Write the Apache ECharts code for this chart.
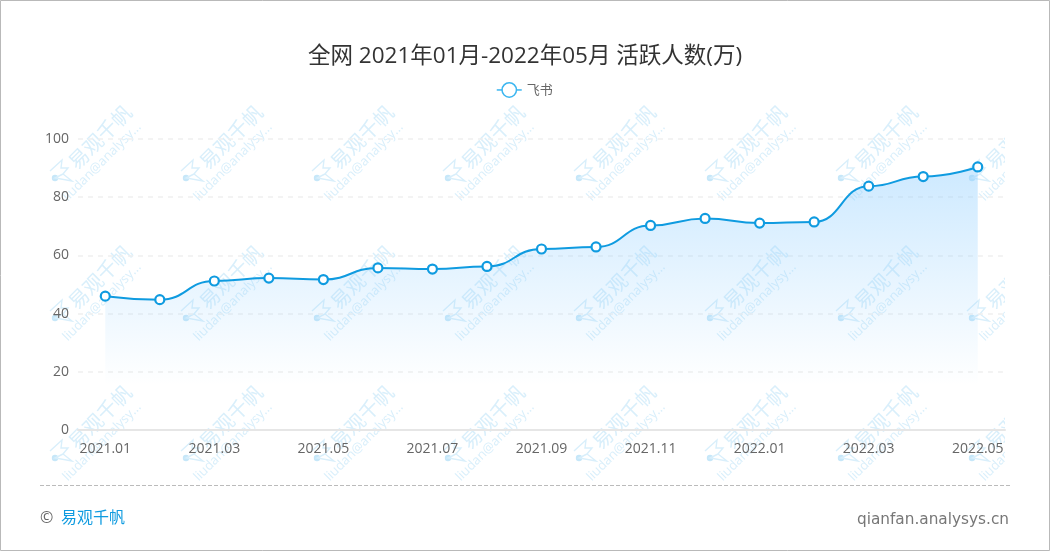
<!DOCTYPE html>
<html><head><meta charset="utf-8">
<style>html,body{margin:0;padding:0;background:#fff}#c{width:1050px;height:551px}</style>
<script src="https://cdn.jsdelivr.net/npm/echarts@6/dist/echarts.min.js"></script>
</head><body><div id="c"></div>
<script>
const categories = ['2021.01','2021.02','2021.03','2021.04','2021.05','2021.06','2021.07','2021.08','2021.09','2021.10','2021.11','2021.12','2022.01','2022.02','2022.03','2022.04','2022.05'];
const values = [46.0,44.8,51.2,52.2,51.7,55.7,55.3,56.2,62.2,62.9,70.3,72.7,71.1,71.5,83.8,87.1,90.4];
const seriesName = '飞书';
const titleText = '全网 2021年01月-2022年05月 活跃人数(万)';
const FONT = '"Open Sans","Noto Sans CJK SC",sans-serif';
const BLUE = '#0f9be0';
const WM = '#d9effb';

const graphics = [];
const rows = [136, 276, 416];
const cols = [101, 232, 363, 494, 625, 756, 887, 1018];
rows.forEach(cy => cols.forEach(cx => {
  graphics.push({
    type: 'text', x: cx - 1, y: cy + 1, rotation: Math.PI / 4, silent: true, z: -10,
    style: { text: '易观千帆', font: '20px "Noto Sans CJK SC",sans-serif', fill: WM, align: 'center', verticalAlign: 'middle' }
  });
  graphics.push({
    type: 'text', x: cx + 1, y: cy + 26, rotation: Math.PI / 4, silent: true, z: -10,
    style: { text: 'liudan@analysy...', font: '13px "Open Sans",sans-serif', fill: WM, align: 'center', verticalAlign: 'middle' }
  });
  graphics.push({ type: 'circle', silent: true, z: -10, x: cx - 46, y: cy + 42, shape: { cx: 0, cy: 0, r: 3.2 }, style: { fill: '#c6e7f9' } });
  graphics.push({
    type: 'polyline', silent: true, z: -10, x: cx - 46, y: cy + 42,
    shape: { points: [[-5, -7], [7, -18], [6, -10], [13, -10], [8, -4], [17, 3], [0, 0], [8, -4]] },
    style: { fill: 'none', stroke: WM, lineWidth: 1.4 }
  });
}));
graphics.push({ type: 'rect', silent: true, z: -5, shape: { x: 1005, y: 100, width: 45, height: 380 }, style: { fill: '#fff' } });
graphics.push({ type: 'rect', silent: true, z: 50, shape: { x: 0.5, y: 0.5, width: 1049, height: 550 }, style: { fill: 'none', stroke: '#b9b9b9', lineWidth: 1 } });
graphics.push({ type: 'line', silent: true, z: 50, shape: { x1: 40, y1: 485.5, x2: 1010, y2: 485.5 }, style: { stroke: '#bbb', lineWidth: 1, lineDash: [4, 2] } });
graphics.push({ type: 'text', silent: true, z: 50, x: 40, y: 518, style: { text: '©', font: '16px ' + FONT, fill: '#666', verticalAlign: 'middle' } });
graphics.push({ type: 'text', silent: true, z: 50, x: 61, y: 517, style: { text: '易观千帆', font: '16px "Noto Sans CJK SC",sans-serif', fill: BLUE, verticalAlign: 'middle' } });
graphics.push({ type: 'text', silent: true, z: 50, x: 1009, y: 520, style: { text: 'qianfan.analysys.cn', font: '15.3px "DejaVu Sans",sans-serif', fill: '#777', align: 'right', verticalAlign: 'middle' } });

const chart = echarts.init(document.getElementById('c'), null, { renderer: 'canvas' });
chart.setOption({
  animation: false,
  backgroundColor: '#fff',
  title: { text: titleText, left: 'center', top: 40, textStyle: { fontFamily: FONT, fontSize: 22.5, fontWeight: 'normal', color: '#333' } },
  legend: { top: 77, left: 491, itemWidth: 25, itemHeight: 18, itemGap: 10, data: [seriesName],
    itemStyle: { color: '#fff', borderColor: '#3cb6f0', borderWidth: 1.5 },
    lineStyle: { color: '#3cb6f0', width: 1.5 },
    textStyle: { fontFamily: FONT, fontSize: 13, color: '#666' } },
  grid: { left: 78, right: 45, top: 139, bottom: 121 },
  xAxis: {
    type: 'category', data: categories, boundaryGap: true,
    axisLine: { lineStyle: { color: '#e6e6e6', width: 2 } },
    axisTick: { alignWithLabel: true, interval: i => i % 2 === 1, length: 5, lineStyle: { color: '#d8d8d8' } },
    axisLabel: { interval: 1, color: '#666', fontSize: 14, fontFamily: FONT, margin: 12 },
    splitLine: { show: false }
  },
  yAxis: {
    type: 'value', min: 0, max: 100, interval: 20,
    axisLine: { show: false }, axisTick: { show: false },
    axisLabel: { color: '#666', fontSize: 14, fontFamily: FONT, margin: 9 },
    splitLine: { lineStyle: { color: '#f0f0f0', type: [5, 5], width: 1.5 } }
  },
  series: [{
    name: seriesName, type: 'line', data: values, smooth: 0.5, smoothMonotone: 'x',
    symbol: 'circle', symbolSize: 9, showSymbol: true,
    lineStyle: { color: BLUE, width: 2 },
    itemStyle: { color: '#fff', borderColor: BLUE, borderWidth: 2.2 },
    areaStyle: { color: { type: 'linear', x: 0, y: 0, x2: 0, y2: 1, colorStops: [
      { offset: 0, color: 'rgba(140,205,255,0.62)' },
      { offset: 0.83, color: 'rgba(140,205,255,0)' },
      { offset: 1, color: 'rgba(140,205,255,0)' }
    ] } },
    z: 5
  }],
  graphic: { elements: graphics }
});
</script></body></html>
